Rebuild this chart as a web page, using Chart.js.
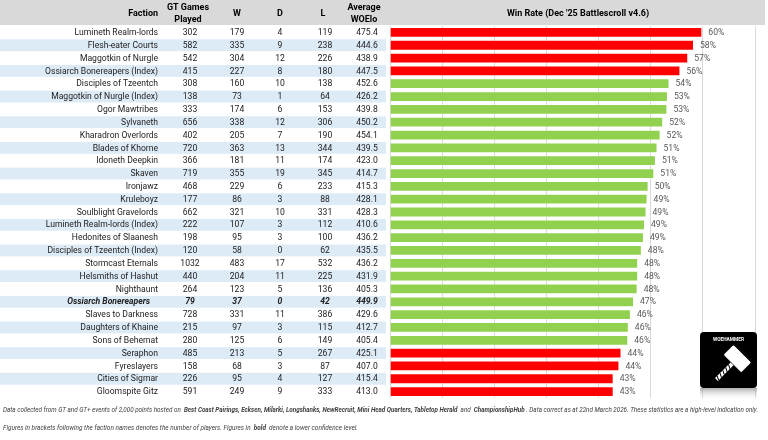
<!DOCTYPE html>
<html>
<head>
<meta charset="utf-8">
<script src="https://cdn.jsdelivr.net/npm/chart.js@4.4.1/dist/chart.umd.min.js"></script>
<style>
  html, body { margin: 0; padding: 0; background: #fff; }
  #wrap { width: 768px; height: 440px; position: relative; }
</style>
</head>
<body>
<div id="wrap"><canvas id="winChart"></canvas></div>
<script>
// Table data
const factions = [
  'Lumineth Realm-lords', 'Flesh-eater Courts', 'Maggotkin of Nurgle', 'Ossiarch Bonereapers (Index)',
  'Disciples of Tzeentch', 'Maggotkin of Nurgle (Index)', 'Ogor Mawtribes', 'Sylvaneth',
  'Kharadron Overlords', 'Blades of Khorne', 'Idoneth Deepkin', 'Skaven', 'Ironjawz', 'Kruleboyz',
  'Soulblight Gravelords', 'Lumineth Realm-lords (Index)', 'Hedonites of Slaanesh',
  'Disciples of Tzeentch (Index)', 'Stormcast Eternals', 'Helsmiths of Hashut', 'Nighthaunt',
  'Ossiarch Bonereapers', 'Slaves to Darkness', 'Daughters of Khaine', 'Sons of Behemat',
  'Seraphon', 'Fyreslayers', 'Cities of Sigmar', 'Gloomspite Gitz'
];
const games  = [302, 582, 542, 415, 308, 138, 333, 656, 402, 720, 366, 719, 468, 177, 662, 222, 198, 120, 1032, 440, 264, 79, 728, 215, 280, 485, 158, 226, 591];
const wins   = [179, 335, 304, 227, 160, 73, 174, 338, 205, 363, 181, 355, 229, 86, 321, 107, 95, 58, 483, 204, 123, 37, 331, 97, 125, 213, 68, 95, 249];
const draws  = [4, 9, 12, 8, 10, 1, 6, 12, 7, 13, 11, 19, 6, 3, 10, 3, 3, 0, 17, 11, 5, 0, 11, 3, 6, 5, 3, 4, 9];
const losses = [119, 238, 226, 180, 138, 64, 153, 306, 190, 344, 174, 345, 233, 88, 331, 112, 100, 62, 532, 225, 136, 42, 386, 115, 149, 267, 87, 127, 333];
const woElo  = ['475.4', '444.6', '438.9', '447.5', '452.6', '426.2', '439.8', '450.2', '454.1', '439.5', '423.0', '414.7', '415.3', '428.1', '428.3', '410.6', '436.2', '435.5', '436.2', '431.9', '405.3', '449.9', '429.6', '412.7', '405.4', '425.1', '407.0', '415.4', '413.0'];
// Win rate in %
const winRate = [59.9, 58.3, 57.2, 55.7, 53.6, 53.3, 53.2, 52.4, 51.9, 51.3, 51.0, 50.7, 49.6, 49.4, 49.2, 48.9, 48.7, 48.3, 47.6, 47.6, 47.5, 46.8, 46.2, 45.8, 45.7, 44.4, 44.0, 42.9, 42.9];
const lowConfidence = ['Ossiarch Bonereapers'];

const RED = '#FF0000';
const GREEN = '#92D050';
const barColors = winRate.map(v => (v > 55 || v < 45) ? RED : GREEN);

const FONT = 'Roboto';

// Table, header, labels and logo drawn around the bars
const tablePlugin = {
  id: 'tablePlugin',
  beforeDraw(chart) {
    const ctx = chart.ctx;
    const y = chart.scales.y;
    const area = chart.chartArea;
    const rowH = (area.bottom - area.top) / factions.length;
    ctx.save();
    ctx.fillStyle = '#fff';
    ctx.fillRect(0, 0, chart.width, chart.height);
    ctx.fillStyle = '#D9D9D9';
    ctx.fillRect(0, 0, 765, area.top - 1);
    ctx.fillStyle = '#DDEBF7';
    factions.forEach((f, i) => {
      if (i % 2 === 1) {
        const cy = y.getPixelForValue(i);
        ctx.fillRect(0, cy - rowH / 2 + 0.5, 386, rowH - 1);
      }
    });
    ctx.restore();
  },
  afterDraw(chart) {
    const ctx = chart.ctx;
    const y = chart.scales.y;
    const x = chart.scales.x;
    ctx.save();
    // header
    ctx.fillStyle = '#000';
    ctx.font = `bold 9px ${FONT}`;
    ctx.textBaseline = 'middle';
    ctx.textAlign = 'right';
    ctx.fillText('Faction', 158, 14);
    ctx.textAlign = 'center';
    ctx.fillText('GT Games', 188, 7.5);
    ctx.fillText('Played', 188, 20);
    ctx.fillText('W', 237, 14);
    ctx.fillText('D', 280, 14);
    ctx.fillText('L', 323, 14);
    ctx.fillText('Average', 364, 7.5);
    ctx.fillText('WOElo', 364, 20);
    ctx.fillText("Win Rate (Dec '25 Battlescroll v4.6)", 578, 14);

    // rows
    factions.forEach((f, i) => {
      const cy = y.getPixelForValue(i) + 0.5;
      const low = lowConfidence.includes(f);
      ctx.fillStyle = '#222';
      ctx.font = low ? `italic bold 8.6px ${FONT}` : `8.6px ${FONT}`;
      ctx.textAlign = 'right';
      ctx.fillText(f, low ? 150 : 158, cy);
      ctx.textAlign = 'center';
      ctx.fillText(String(games[i]), 190, cy);
      ctx.fillText(String(wins[i]), 237, cy);
      ctx.fillText(String(draws[i]), 280, cy);
      ctx.fillText(String(losses[i]), 325, cy);
      ctx.fillText(woElo[i], 367, cy);

      // bar value label
      ctx.fillStyle = '#595959';
      ctx.font = `8.6px ${FONT}`;
      ctx.textAlign = 'left';
      ctx.fillText(Math.round(winRate[i]) + '%', x.getPixelForValue(winRate[i]) + 6, cy);
    });

    // footer
    const line1 = [
      ['italic', 'Data collected from GT and GT+ events of 2,000 points hosted on  '],
      ['italic bold', 'Best Coast Pairings, Ecksen, Milarki, Longshanks, NewRecruit, Mini Head Quarters, Tabletop Herald'],
      ['italic', '  and  '],
      ['italic bold', 'ChampionshipHub'],
      ['italic', ' . Data correct as at 22nd March 2026. These statistics are a high-level indication only.']
    ];
    const line2 = [
      ['italic', 'Figures in brackets following the faction names denotes the number of players. Figures in  '],
      ['italic bold', 'bold'],
      ['italic', '  denote a lower confidence level.']
    ];
    const drawLine = (segs, x0, x1, yy) => {
      let total = 0;
      segs.forEach(s => { ctx.font = `${s[0]} 6.4px ${FONT}`; total += ctx.measureText(s[1]).width; });
      const k = (x1 - x0) / total;
      ctx.save();
      ctx.translate(x0, yy);
      ctx.scale(k, 1);
      let cx = 0;
      ctx.fillStyle = '#404040';
      ctx.textAlign = 'left';
      segs.forEach(s => {
        ctx.font = `${s[0]} 6.4px ${FONT}`;
        ctx.fillText(s[1], cx, 0);
        cx += ctx.measureText(s[1]).width;
      });
      ctx.restore();
    };
    drawLine(line1, 3, 758, 410);
    drawLine(line2, 3, 358, 428);

    // logo
    const lx = 700, ly = 332, lw = 57, lh = 56;
    const grad = ctx.createLinearGradient(0, ly + lh, 0, ly + lh + 12);
    grad.addColorStop(0, 'rgba(120,120,120,0.6)');
    grad.addColorStop(1, 'rgba(255,255,255,0)');
    ctx.fillStyle = grad;
    ctx.fillRect(lx, ly + lh, lw, 12);
    ctx.fillStyle = '#000';
    ctx.beginPath();
    ctx.roundRect(lx, ly, lw, lh, 4);
    ctx.fill();
    ctx.fillStyle = '#fff';
    ctx.font = `bold 4.8px ${FONT}`;
    ctx.textAlign = 'center';
    ctx.fillText('WOEHAMMER', lx + lw / 2, ly + 8);
    // hammer
    ctx.save();
    ctx.translate(lx + 37, ly + 27);
    ctx.rotate(Math.PI / 4);
    ctx.fillStyle = '#fff';
    ctx.strokeStyle = '#000';
    ctx.lineWidth = 1;
    ctx.beginPath();
    ctx.roundRect(-13, -8, 26, 15, 2);
    ctx.fill();
    ctx.stroke();
    ctx.fillRect(-2, 7, 4, 22);
    for (let s = 10; s < 29; s += 4) {
      ctx.beginPath();
      ctx.moveTo(-2, s);
      ctx.lineTo(2, s + 2);
      ctx.stroke();
    }
    ctx.restore();
    ctx.restore();
  }
};

new Chart(document.getElementById('winChart'), {
  type: 'bar',
  data: {
    labels: factions,
    datasets: [{
      label: 'Win Rate',
      data: winRate,
      backgroundColor: barColors,
      borderColor: 'rgba(255,255,255,0.35)',
      borderWidth: 1,
      barPercentage: 0.84,
      categoryPercentage: 1.0
    }]
  },
  options: {
    indexAxis: 'y',
    responsive: true,
    maintainAspectRatio: false,
    animation: false,
    devicePixelRatio: 1,
    layout: { padding: { left: 390, right: 13, top: 26, bottom: 42 } },
    plugins: {
      legend: { display: false },
      tooltip: { enabled: false }
    },
    scales: {
      x: {
        min: 0,
        max: 70,
        ticks: { display: false, stepSize: 10 },
        grid: { color: '#D9D9D9', drawTicks: false, lineWidth: 1 },
        border: { display: false }
      },
      y: { display: false }
    }
  },
  plugins: [tablePlugin]
});
</script>
</body>
</html>
